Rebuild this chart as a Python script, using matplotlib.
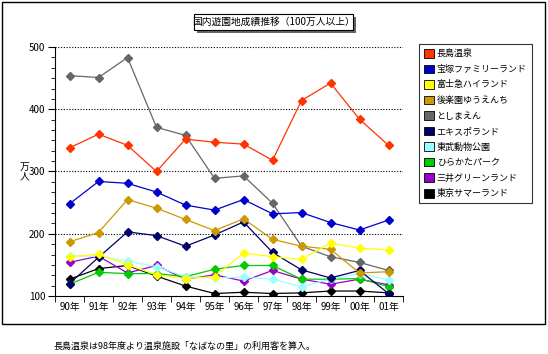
import numpy as np
import matplotlib
matplotlib.use("Agg")
import matplotlib.pyplot as plt
import matplotlib.patches as patches
from matplotlib.ticker import MultipleLocator

plt.rcParams['font.family'] = ['Noto Sans CJK JP', 'DejaVu Sans']

years = ['90年', '91年', '92年', '93年', '94年', '95年', '96年', '97年', '98年', '99年', '00年', '01年']

nagashima = [338, 360, 342, 300, 352, 347, 344, 318, 414, 442, 384, 342]
takarazuka = [248, 284, 281, 267, 246, 238, 255, 232, 234, 218, 206, 222]
fujikyu = [163, 167, 150, 134, 128, 131, 169, 163, 159, 185, 177, 174]
korakuen = [187, 202, 255, 241, 223, 205, 224, 191, 180, 175, 137, 139]
toshimaen = [454, 451, 483, 371, 358, 289, 293, 249, 180, 163, 154, 141]
expoland = [120, 162, 203, 197, 180, 198, 219, 170, 142, 129, 141, 104]
tobu = [164, 164, 156, 147, 131, 129, 130, 127, 115, 127, 136, 126]
hirakata = [119, 138, 136, 136, 131, 143, 149, 149, 127, 127, 128, 115]
mitsui = [154, 164, 137, 149, 127, 134, 124, 141, 127, 119, 127, 118]
summerland = [127, 144, 149, 132, 116, 104, 106, 104, 105, 108, 108, 105]

names = ['長島温泉', '宝塚ファミリーランド', '富士急ハイランド', '後楽園ゆうえんち', 'としまえん',
         'エキスポランド', '東武動物公園', 'ひらかたパーク', '三井グリーンランド', '東京サマーランド']
series = [nagashima, takarazuka, fujikyu, korakuen, toshimaen,
          expoland, tobu, hirakata, mitsui, summerland]
colors = ['#FF3300', '#0000CC', '#FFFF00', '#CC9900', '#666666',
          '#000066', '#99FFFF', '#00CC00', '#9900CC', '#000000']

W, H = 548, 354
fig = plt.figure(figsize=(W / 100, H / 100), dpi=100)

def fx(px):
    return px / W

def fy(py):
    return 1 - py / H

# outer frame
fig.add_artist(patches.Rectangle((fx(2), fy(324)), fx(543), 322 / H, transform=fig.transFigure,
                                 fill=False, ec='black', lw=1))

ax = fig.add_axes([fx(55), fy(296), fx(348), (296 - 47) / H])
x = np.arange(len(years))

# draw in reverse so first series sits on top like the original
for vals, c in reversed(list(zip(series, colors))):
    ax.plot(x, vals, color=c, lw=0.9, marker='D', ms=4.5, mec=c, mfc=c)

ax.set_xlim(-0.5, len(years) - 0.5)
ax.set_ylim(100, 500)
ax.set_yticks([100, 200, 300, 400, 500])
ax.yaxis.set_minor_locator(MultipleLocator(100 / 6))
ax.set_xticks(x)
ax.set_xticklabels(years)
ax.set_xticks(np.arange(len(years) + 1) - 0.5, minor=True)
ax.tick_params(axis='x', which='major', length=0, labelsize=7, pad=4)
ax.tick_params(axis='x', which='minor', length=4, direction='out')
ax.tick_params(axis='y', which='major', length=5, labelsize=7, pad=2)
ax.tick_params(axis='y', which='minor', length=3)
for y in [200, 300, 400, 500]:
    ax.axhline(y, color='black', lw=0.8, ls=(0, (1, 1.5)), zorder=0)
ax.spines['top'].set_visible(False)
ax.spines['right'].set_visible(False)
ax.patch.set_alpha(0)

fig.text(fx(25), fy(172), '万\n人', ha='center', va='center', fontsize=7, linespacing=0.9)

# title box with shadow
fig.add_artist(patches.Rectangle((fx(197), fy(33)), fx(159), 16 / H, transform=fig.transFigure,
                                 fc='#666666', ec='none'))
fig.add_artist(patches.Rectangle((fx(194), fy(30)), fx(159), 16 / H, transform=fig.transFigure,
                                 fc='white', ec='black', lw=0.8))
fig.text(fx(273.5), fy(22), '国内遊園地成績推移（100万人以上）', ha='center', va='center', fontsize=7)

handles = [patches.Patch(fc=c, ec='black', lw=0.6) for c in colors]
leg = fig.legend(handles, names, loc='upper left', bbox_to_anchor=(fx(419), fy(44)),
                 frameon=True, fancybox=False, fontsize=6.5, handlelength=1.1, handleheight=1.1,
                 handletextpad=0.3, labelspacing=0.68, borderpad=0.55, borderaxespad=0)
leg.get_frame().set_edgecolor('black')
leg.get_frame().set_linewidth(0.8)

fig.text(fx(54), fy(346), '長島温泉は98年度より温泉施設「なばなの里」の利用客を算入。', ha='left', va='center', fontsize=6.5)

fig.savefig('out.png', dpi=100)
